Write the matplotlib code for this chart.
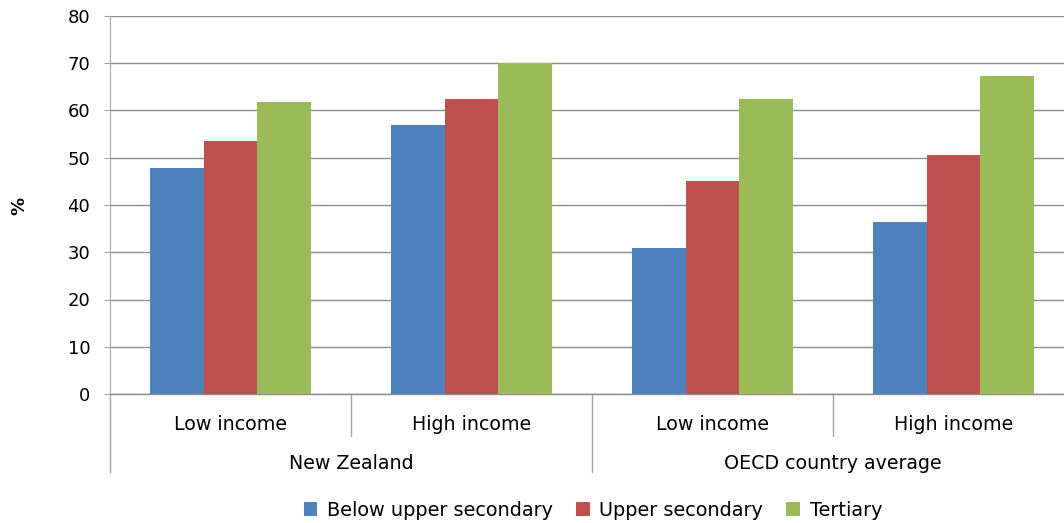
import matplotlib.pyplot as plt
import numpy as np

# Datos
groups = ["New Zealand", "OECD country average"]
categories = ["Low income", "High income", "Low income", "High income"]
series_names = ["Below upper secondary", "Upper secondary", "Tertiary"]
below_upper = [47.8, 56.9, 30.9, 36.4]
upper_sec = [53.5, 62.4, 45.1, 50.6]
tertiary = [61.8, 70.0, 62.4, 67.3]
y_ticks = [0, 10, 20, 30, 40, 50, 60, 70, 80]

colors = ["#4F81BD", "#C0504D", "#9BBB59"]
grid_col = "#8C8C8C"
fs = 13
fs_txt = 13.7

plt.rcParams['font.family'] = ['DejaVu Sans']

W, H = 1064, 523
fig = plt.figure(figsize=(W / 100, H / 100), dpi=100)
# el área del gráfico se sale un poco por la derecha, como en el original
ax = fig.add_axes([110 / W, (H - 394) / H, (1074 - 110) / W, (394 - 16) / H])

x = np.arange(len(categories)) + 0.5
bw = 0.224
for i, vals in enumerate([below_upper, upper_sec, tertiary]):
    ax.bar(x + (i - 1) * bw, vals, width=bw, color=colors[i],
           label=series_names[i], zorder=3)

ax.set_xlim(0, len(categories))
ax.set_ylim(0, 80)
ax.set_yticks(y_ticks)
ax.yaxis.grid(True, color=grid_col, linewidth=1.0, zorder=0)
ax.set_xticks([])
for s in ["top", "right"]:
    ax.spines[s].set_visible(False)
ax.spines["left"].set_color("#A6A6A6")
ax.spines["bottom"].set_color(grid_col)
ax.spines["bottom"].set_linewidth(1.0)
ax.tick_params(axis='y', length=4.3, color="#A6A6A6", labelsize=fs, pad=10)

# Etiquetas jerárquicas del eje x
tr = ax.get_xaxis_transform()
for xi, lab in zip(x, categories):
    ax.text(xi, -0.082, lab, transform=tr, ha='center', va='center', fontsize=fs_txt)
for gi, g in enumerate(groups):
    ax.text(gi * 2 + 1, -0.183, g, transform=tr, ha='center', va='center', fontsize=fs_txt)

sep_col = "#A6A6A6"
for k in [1, 3]:
    ax.plot([k, k], [0, -0.112], transform=tr, color=sep_col, lw=1, clip_on=False)
for k in [0, 2]:
    ax.plot([k, k], [0, -0.206], transform=tr, color=sep_col, lw=1, clip_on=False)

fig.text(19 / W, 1 - 206 / H, "%", rotation=90, fontweight='bold',
         fontsize=fs, ha='center', va='center')

fig.legend(loc='center', bbox_to_anchor=(593 / W, 1 - 510 / H), ncol=3,
           frameon=False, fontsize=13.9, handlelength=0.7, handleheight=0.7,
           handletextpad=0.5, columnspacing=1.2)

fig.savefig("out.png", dpi=100)
